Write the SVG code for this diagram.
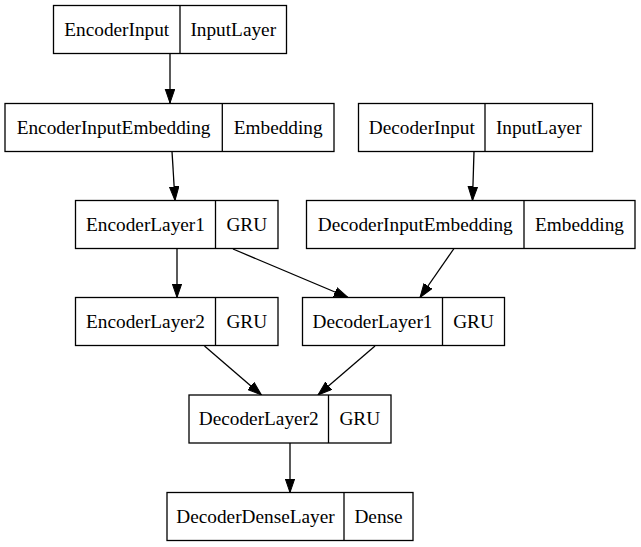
<svg xmlns="http://www.w3.org/2000/svg" width="641" height="547" viewBox="0 0 641 547">
<style>
.box{fill:#ffffff;stroke:#000000;stroke-width:1.3}
.div{stroke:#000000;stroke-width:1.3}
.t{font-family:"Liberation Serif","Times New Roman",serif;font-size:19.3px;fill:#000000;text-anchor:middle}
.e{fill:none;stroke:#000000;stroke-width:1.3;marker-end:url(#ah)}
</style>
<defs>
<marker id="ah" markerUnits="userSpaceOnUse" markerWidth="15" markerHeight="11" refX="14" refY="4.8" orient="auto" viewBox="0 0 15 10">
<path d="M0,0 L14,4.8 L0,9.6 z" fill="#000000" stroke="#000000" stroke-width="1"/>
</marker>
</defs>
<rect width="641" height="547" fill="#ffffff"/>
<g id="connectors">
<path class="e" d="M170,54 L170,103"/>
<path class="e" d="M172,151.5 L175,200.5"/>
<path class="e" d="M177,249 L177,297.5"/>
<path class="e" d="M233,249 L348,297.5"/>
<path class="e" d="M474,151.5 L472.5,200.5"/>
<path class="e" d="M454,248.5 L420,297.5"/>
<path class="e" d="M204.5,346 L261.5,395"/>
<path class="e" d="M375,346 L318,395"/>
<path class="e" d="M290,443 L290,492.5"/>
</g>
<g id="EncoderInput">
<rect class="box" x="53.5" y="5.5" width="233" height="48"/>
<line class="div" x1="180" y1="5.5" x2="180" y2="53.5"/>
<text class="t" x="116.75" y="35.5">EncoderInput</text>
<text class="t" x="233.25" y="35.5">InputLayer</text>
</g>
<g id="EncoderInputEmbedding">
<rect class="box" x="5" y="103.5" width="329" height="48"/>
<line class="div" x1="222.3" y1="103.5" x2="222.3" y2="151.5"/>
<text class="t" x="113.6" y="133.5">EncoderInputEmbedding</text>
<text class="t" x="278.2" y="133.5">Embedding</text>
</g>
<g id="DecoderInput">
<rect class="box" x="358.5" y="103.5" width="234" height="48"/>
<line class="div" x1="485" y1="103.5" x2="485" y2="151.5"/>
<text class="t" x="421.75" y="133.5">DecoderInput</text>
<text class="t" x="538.75" y="133.5">InputLayer</text>
</g>
<g id="EncoderLayer1">
<rect class="box" x="75.5" y="200.5" width="202.5" height="48"/>
<line class="div" x1="215.5" y1="200.5" x2="215.5" y2="248.5"/>
<text class="t" x="145.5" y="230.5">EncoderLayer1</text>
<text class="t" x="246.75" y="230.5">GRU</text>
</g>
<g id="DecoderInputEmbedding">
<rect class="box" x="306.5" y="200.5" width="328.5" height="48"/>
<line class="div" x1="524" y1="200.5" x2="524" y2="248.5"/>
<text class="t" x="415.25" y="230.5">DecoderInputEmbedding</text>
<text class="t" x="579.5" y="230.5">Embedding</text>
</g>
<g id="EncoderLayer2">
<rect class="box" x="75.5" y="297.5" width="202.5" height="48"/>
<line class="div" x1="215.5" y1="297.5" x2="215.5" y2="345.5"/>
<text class="t" x="145.5" y="327.5">EncoderLayer2</text>
<text class="t" x="246.75" y="327.5">GRU</text>
</g>
<g id="DecoderLayer1">
<rect class="box" x="302.5" y="297.5" width="202" height="48"/>
<line class="div" x1="442.5" y1="297.5" x2="442.5" y2="345.5"/>
<text class="t" x="372.5" y="327.5">DecoderLayer1</text>
<text class="t" x="473.5" y="327.5">GRU</text>
</g>
<g id="DecoderLayer2">
<rect class="box" x="189" y="395" width="202" height="48"/>
<line class="div" x1="328.5" y1="395" x2="328.5" y2="443"/>
<text class="t" x="258.75" y="425">DecoderLayer2</text>
<text class="t" x="359.75" y="425">GRU</text>
</g>
<g id="DecoderDenseLayer">
<rect class="box" x="167" y="492.5" width="246" height="48"/>
<line class="div" x1="344" y1="492.5" x2="344" y2="540.5"/>
<text class="t" x="255.5" y="522.5">DecoderDenseLayer</text>
<text class="t" x="378.5" y="522.5">Dense</text>
</g>
</svg>
